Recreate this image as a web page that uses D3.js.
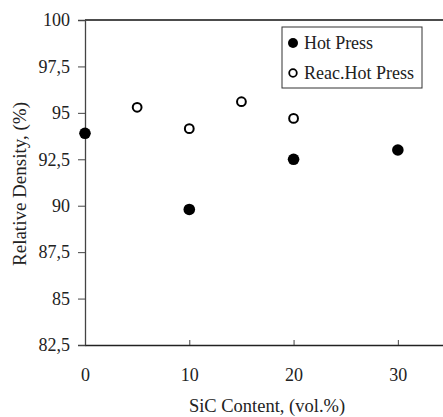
<!DOCTYPE html>
<html><head><meta charset="utf-8">
<script src="https://cdn.jsdelivr.net/npm/d3@7"></script>
<style>body{margin:0;background:#fff}svg{display:block}text{font-family:"Liberation Serif","Times New Roman",serif;fill:#222}</style>
</head><body><svg id="c" width="443" height="417"></svg>
<script>
const hotX = [0, 10, 20, 30];
const hotY = [93.9, 89.8, 92.5, 93.0];
const reacX = [5, 10, 15, 20];
const reacY = [95.3, 94.15, 95.6, 94.7];
const yTicks = [82.5, 85, 87.5, 90, 92.5, 95, 97.5, 100];
const xTicks = [0, 10, 20, 30];
const seriesNames = ["Hot Press", "Reac.Hot Press"];

const svg = d3.select("#c");
const x = d3.scaleLinear().domain([0, 35]).range([85, 450]);
const y = d3.scaleLinear().domain([82.5, 100]).range([345, 20]);
const fmt = d => String(d).replace(".", ",");

// top border
svg.append("line").attr("x1", 85).attr("x2", 443).attr("y1", y(100)).attr("y2", y(100))
  .attr("stroke", "#111").attr("stroke-width", 1.3);

const ya = svg.append("g").attr("transform", "translate(85,0)")
  .call(d3.axisLeft(y).tickValues(yTicks).tickFormat(fmt).tickSize(7).tickPadding(8));
ya.attr("font-size", null).attr("font-family", null);
ya.select(".domain").attr("stroke", "#444").attr("stroke-width", 1.3);
ya.selectAll(".tick line").attr("stroke", "#444");
ya.selectAll("text").style("font-size", "18px").style("fill", "#222").style("font-family", "'Liberation Serif', serif");

const xa = svg.append("g").attr("transform", "translate(0,345)")
  .call(d3.axisBottom(x).tickValues(xTicks).tickSize(0).tickPadding(23));
xa.attr("font-size", null).attr("font-family", null);
xa.select(".domain").attr("stroke", "#222").attr("stroke-width", 1.3);
xa.selectAll("text").style("font-size", "18px").style("fill", "#222").style("font-family", "'Liberation Serif', serif");
xa.selectAll(".tick").filter(d => d > 0).append("line").attr("y1", 0).attr("y2", -5).attr("stroke", "#444");

svg.append("text").attr("x", 267).attr("y", 412).attr("text-anchor", "middle")
  .style("font-size", "18.5px").text("SiC Content, (vol.%)");
svg.append("text").attr("transform", "translate(26,184) rotate(-90)").attr("text-anchor", "middle")
  .style("font-size", "19px").text("Relative Density, (%)");

const hot = hotX.map((v, i) => [v, hotY[i]]);
const reac = reacX.map((v, i) => [v, reacY[i]]);
svg.append("g").selectAll("circle").data(hot).join("circle")
  .attr("cx", d => x(d[0])).attr("cy", d => y(d[1])).attr("r", 5.8).attr("fill", "#000");
svg.append("g").selectAll("circle").data(reac).join("circle")
  .attr("cx", d => x(d[0])).attr("cy", d => y(d[1])).attr("r", 4.4)
  .attr("fill", "#fff").attr("stroke", "#000").attr("stroke-width", 2);

// legend
const lg = svg.append("g");
lg.append("rect").attr("x", 282).attr("y", 27).attr("width", 140).attr("height", 61)
  .attr("fill", "#fff").attr("stroke", "#333").attr("stroke-width", 1);
lg.append("circle").attr("cx", 293).attr("cy", 43).attr("r", 5).attr("fill", "#000");
lg.append("circle").attr("cx", 293).attr("cy", 73).attr("r", 3.8).attr("fill", "#fff").attr("stroke", "#000").attr("stroke-width", 1.8);
lg.append("text").attr("x", 304).attr("y", 49).style("font-size", "18px").attr("textLength", 69).text(seriesNames[0]);
lg.append("text").attr("x", 304).attr("y", 79).style("font-size", "18px").attr("textLength", 110).text(seriesNames[1]);
</script></body></html>
